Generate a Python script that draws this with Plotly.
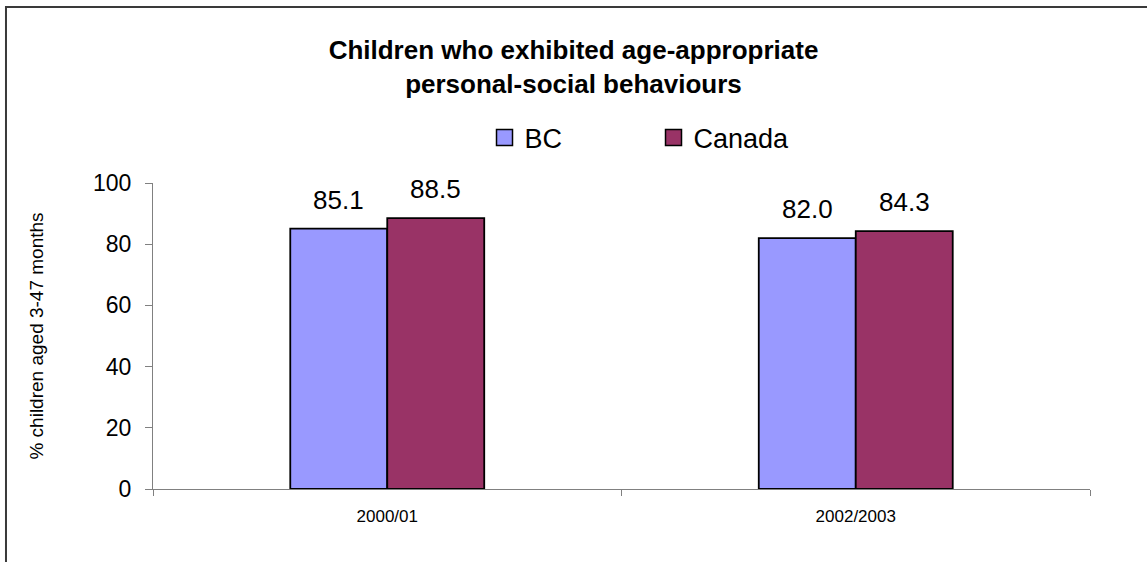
import plotly.graph_objects as go

# Survey periods and the share of children (%) by region
periods = ["2000/01", "2002/2003"]
bc_values = [85.1, 82.0]
canada_values = [88.5, 84.3]
series_names = ["BC", "Canada"]
series_colors = ["#9999FF", "#993366"]
y_ticks = [0, 20, 40, 60, 80, 100]

FONT = "Liberation Sans, Arial, sans-serif"
BAR_W = 0.207

fig = go.Figure()

series_values = [bc_values, canada_values]
offsets = [-BAR_W, 0.0]
for name, vals, color, off in zip(series_names, series_values, series_colors, offsets):
    fig.add_trace(go.Bar(
        x=periods, y=vals, name=name,
        marker=dict(color=color, line=dict(color="black", width=1.8)),
        width=BAR_W, offset=off, showlegend=False, legendgroup=name,
    ))
    # larger legend swatch
    fig.add_trace(go.Scatter(
        x=[None], y=[None], mode="markers", name=name, legendgroup=name,
        marker=dict(symbol="square", size=16, color=color,
                    line=dict(color="black", width=1.5)),
    ))

# value labels above each bar
for i, p in enumerate(periods):
    for vals, off in zip(series_values, offsets):
        fig.add_annotation(
            x=i + off + BAR_W / 2, y=vals[i], xref="x", yref="y",
            text=f"{vals[i]:.1f}", showarrow=False, yanchor="bottom",
            yshift=12, font=dict(family=FONT, size=26, color="black"),
        )

# outer chart frame
fig.add_shape(type="rect", xref="paper", yref="paper",
              x0=-0.1569, x1=1.3, y0=-0.6, y1=1.5752,
              line=dict(color="#3a3a3a", width=2), fillcolor="rgba(0,0,0,0)")

fig.update_layout(
    width=1147, height=562,
    margin=dict(l=153, r=57, t=183, b=73),
    paper_bgcolor="white", plot_bgcolor="white",
    font=dict(family=FONT, color="black"),
    title=dict(
        text="Children who exhibited age-appropriate<br>personal-social behaviours",
        x=0.5, xref="container", xanchor="center",
        y=1 - 59 / 562, yref="container", yanchor="top",
        font=dict(family=FONT, size=26, color="black", weight="bold"),
    ),
    legend=dict(
        orientation="h", x=0.3538, xanchor="left", y=1.147, yanchor="middle",
        font=dict(family=FONT, size=27, color="black"),
        entrywidth=124, entrywidthmode="pixels",
        bgcolor="rgba(0,0,0,0)",
    ),
    xaxis=dict(
        type="category", range=[-0.5, 1.5], tickson="boundaries",
        ticks="outside", ticklen=6, tickcolor="#808080",
        showline=True, linecolor="#808080", linewidth=1,
        showgrid=False, tickfont=dict(family=FONT, size=17, color="black"),
        ticklabelstandoff=12,
    ),
    yaxis=dict(
        range=[0, 100], tickvals=y_ticks, ticks="outside", ticklen=7,
        tickcolor="#808080", showline=True, linecolor="#808080", linewidth=1,
        showgrid=False, zeroline=False,
        tickfont=dict(family=FONT, size=23, color="black"),
        ticklabelstandoff=9,
        title=dict(text="% children aged 3-47 months", standoff=44,
                   font=dict(family=FONT, size=19, color="black")),
    ),
)

fig.write_html("out.html")
